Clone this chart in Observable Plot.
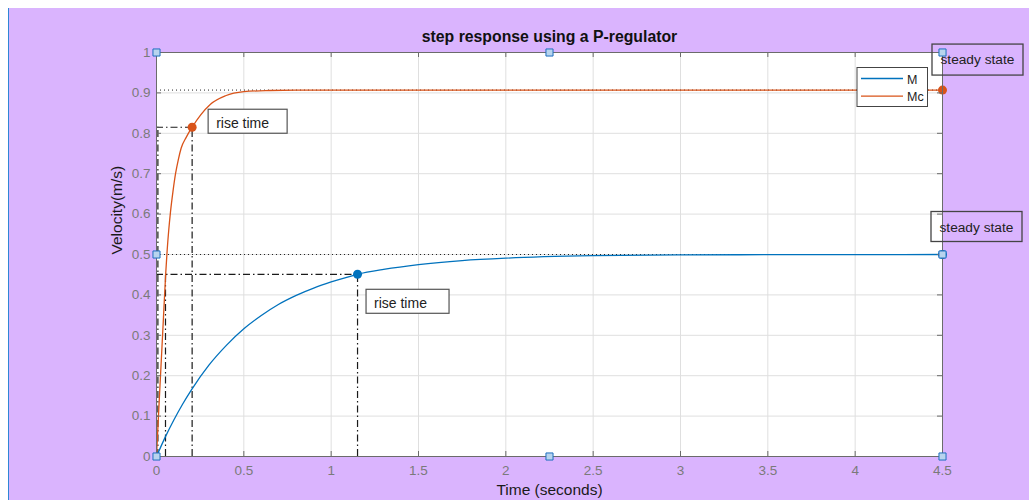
<!DOCTYPE html>
<html>
<head>
<meta charset="utf-8">
<script src="https://cdn.jsdelivr.net/npm/d3@7"></script>
<script src="https://cdn.jsdelivr.net/npm/@observablehq/plot@0.6"></script>
<style>
  html, body { margin: 0; padding: 0; background: #ffffff; }
  #fig { position: absolute; left: 8px; top: 8px; width: 1021px; height: 492px; background: #dab4fe; }
  #edge { position: absolute; left: 8px; top: 8px; width: 1px; height: 492px; background: #2f86d6; }
  #fig svg { display: block; }
</style>
</head>
<body>
<div id="fig"></div>
<div id="edge"></div>
<script>
// ---- data ----
const titleText = "step response using a P-regulator";
const xLabel = "Time (seconds)";
const yLabel = "Velocity(m/s)";
const timeTicks = [0, 0.5, 1, 1.5, 2, 2.5, 3, 3.5, 4, 4.5];
const velocityTicks = [0, 0.1, 0.2, 0.3, 0.4, 0.5, 0.6, 0.7, 0.8, 0.9, 1];
const seriesNames = ["M", "Mc"];
const seriesColors = ["#0072bd", "#d95319"];

const mTime     = [0, 0.05, 0.1, 0.15, 0.2, 0.3, 0.4, 0.5, 0.6, 0.7, 0.8, 0.9, 1.0, 1.151, 1.3, 1.5, 1.75, 2.0, 2.5, 3.0, 3.5, 4.0, 4.5];
const mVelocity = [0, 0.048, 0.091, 0.13, 0.165, 0.226, 0.275, 0.316, 0.349, 0.377, 0.399, 0.417, 0.432, 0.451, 0.463, 0.475, 0.485, 0.491, 0.497, 0.499, 0.4995, 0.4998, 0.5];

const mcTime     = [0, 0.01, 0.02, 0.03, 0.04, 0.053, 0.061, 0.07, 0.08, 0.094, 0.109, 0.125, 0.141, 0.17, 0.204, 0.252, 0.309, 0.395, 0.5, 0.65, 0.8, 1.0, 4.5];
const mcVelocity = [0, 0.09, 0.175, 0.26, 0.345, 0.455, 0.51, 0.56, 0.605, 0.655, 0.70, 0.735, 0.763, 0.790, 0.815, 0.845, 0.872, 0.893, 0.903, 0.906, 0.907, 0.907, 0.907];

const riseT10 = [0.0515, 0.008];   // 10% times (M, Mc)
const riseT90 = [1.151, 0.204];    // 90% times
const riseV90 = [0.451, 0.815];    // 90% values
const steadyV = [0.5, 0.907];      // steady-state values
const endTime = 4.5;

const handleT = [0, 2.25, 4.5, 0, 4.5, 0, 2.25, 4.5];
const handleV = [1, 1, 1, 0.5, 0.5, 0, 0, 0];

// ---- tables built from the arrays ----
const curveM = mTime.map((t, i) => ({t, v: mVelocity[i]}));
const curveMc = mcTime.map((t, i) => ({t, v: mcVelocity[i]}));
const rise = seriesNames.map((s, i) => ({s, t10: riseT10[i], t90: riseT90[i], v90: riseV90[i], color: seriesColors[i]}));
const steady = seriesNames.map((s, i) => ({s, t: endTime, v: steadyV[i], color: seriesColors[i]}));
const handles = handleT.map((t, i) => ({t, v: handleV[i]}));

// ---- layout / style ----
const W = 1021, H = 492;
const mL = 148, mR = 87, mT = 44, mB = 44;
const frameW = W - mL - mR, frameH = H - mT - mB;
const tickLen = 5;
const gridColor = "#dfdfdf";
const axisColor = "#6b6b6b";
const tickLabelColor = "#7a7a7a";
const dashDot = "7,3,1.5,3";
const guideColor = "#1a1a1a";
const font = "'Liberation Sans', Arial, Helvetica, sans-serif";
const fmt = d => `${d}`;

const plot = Plot.plot({
  width: W, height: H,
  marginLeft: mL, marginRight: mR, marginTop: mT, marginBottom: mB,
  style: {background: "transparent", fontFamily: font, overflow: "visible"},
  x: {domain: [0, endTime], axis: null},
  y: {domain: [0, 1], axis: null},
  marks: [
    Plot.frame({fill: "white", stroke: "none"}),
    Plot.gridX(timeTicks, {x: d => d, stroke: gridColor, strokeOpacity: 1}),
    Plot.gridY(velocityTicks, {y: d => d, stroke: gridColor, strokeOpacity: 1}),
    // steady state dotted lines
    Plot.ruleY(steady, {y: "v", stroke: "#222", strokeWidth: 1, strokeDasharray: "1,3"}),
    // rise time dash-dot guides
    Plot.ruleX(rise, {x: "t10", y1: 0, y2: "v90", stroke: guideColor, strokeWidth: 1.2, strokeDasharray: dashDot}),
    Plot.ruleX(rise, {x: "t90", y1: 0, y2: "v90", stroke: guideColor, strokeWidth: 1.2, strokeDasharray: dashDot}),
    Plot.ruleY(rise, {y: "v90", x1: 0, x2: "t90", stroke: guideColor, strokeWidth: 1.2, strokeDasharray: dashDot}),
    // curves
    Plot.line(curveM, {x: "t", y: "v", stroke: seriesColors[0], strokeWidth: 1.3, curve: "monotone-x"}),
    Plot.line(curveMc, {x: "t", y: "v", stroke: seriesColors[1], strokeWidth: 1.3, curve: "monotone-x"}),
    // markers
    Plot.dot(rise, {x: "t90", y: "v90", r: 4.5, fill: "color", stroke: "none"}),
    Plot.dot(steady, {x: "t", y: "v", r: 4.5, fill: "color", stroke: "none"}),
    // inward ticks
    Plot.tickX(timeTicks, {x: d => d, insetTop: frameH - tickLen, stroke: axisColor}),
    Plot.tickX(timeTicks, {x: d => d, insetBottom: frameH - tickLen, stroke: axisColor}),
    Plot.tickY(velocityTicks, {y: d => d, insetRight: frameW - tickLen, stroke: axisColor}),
    Plot.tickY(velocityTicks, {y: d => d, insetLeft: frameW - tickLen, stroke: axisColor}),
    Plot.frame({stroke: axisColor, strokeWidth: 1}),
    // tick labels
    Plot.axisX(timeTicks, {anchor: "bottom", tickSize: 0, tickPadding: 9, fontSize: 13.5, color: tickLabelColor, label: null, tickFormat: fmt}),
    Plot.axisY(velocityTicks, {anchor: "left", tickSize: 0, tickPadding: 6, fontSize: 13.5, color: tickLabelColor, label: null, tickFormat: fmt}),
    // titles
    Plot.text([titleText], {frameAnchor: "top", lineAnchor: "middle", dy: -16, fontSize: 15.8, fontWeight: "bold", fill: "#111"}),
    Plot.text([xLabel], {frameAnchor: "bottom", lineAnchor: "middle", dy: 33.5, fontSize: 15.5, fill: "#1a1a1a"}),
    Plot.text([yLabel], {frameAnchor: "left", lineAnchor: "middle", dx: -39.3, rotate: -90, fontSize: 15.5, fill: "#1a1a1a"}),
    // selection handles
    Plot.dot(handles, {x: "t", y: "v", symbol: "square", r: 4, fill: "#b8d4ee", stroke: "#1f6fbf", strokeWidth: 1, ariaLabel: "handles"})
  ]
});

document.getElementById("fig").appendChild(plot);

// ---- annotation boxes & legend, positioned through Plot's scales ----
const sx = plot.scale("x"), sy = plot.scale("y");
const svg = d3.select(plot);
const ann = svg.append("g").attr("font-family", font).attr("text-anchor", "start");

const riseBoxes = [
  {p: rise[1], dx: 16.5, dy: -17.5, w: 79, h: 24},
  {p: rise[0], dx: 9, dy: 15.5, w: 83, h: 24}
];
riseBoxes.forEach(b => {
  const x = sx.apply(b.p.t90) + b.dx, y = sy.apply(b.p.v90) + b.dy;
  ann.append("rect").attr("x", x).attr("y", y).attr("width", b.w).attr("height", b.h)
    .attr("fill", "white").attr("stroke", "#555").attr("stroke-width", 1.2);
  ann.append("text").attr("x", x + 8).attr("y", y + 19).attr("text-anchor", "start")
    .attr("font-size", 14).attr("fill", "#222").text("rise time");
});

const steadyBoxes = [
  {p: steady[1], dx: -10, dy: -45.5, w: 91, h: 31},
  {p: steady[0], dx: -11, dy: -42.5, w: 91, h: 30}
];
steadyBoxes.forEach(b => {
  const x = sx.apply(b.p.t) + b.dx, y = sy.apply(b.p.v) + b.dy;
  ann.append("rect").attr("x", x).attr("y", y).attr("width", b.w).attr("height", b.h)
    .attr("fill", "none").attr("stroke", "#444").attr("stroke-width", 1.3);
  ann.append("text").attr("x", x + 8.5).attr("y", y + 20).attr("text-anchor", "start")
    .attr("font-size", 13.7).attr("fill", "#222").text("steady state");
});

// legend
const frameRight = sx.apply(endTime), frameTop = sy.apply(1);
const lg = ann.append("g").attr("transform", `translate(${frameRight - 85},${frameTop + 15.5})`);
lg.append("rect").attr("width", 70.5).attr("height", 39).attr("fill", "white").attr("stroke", "#444").attr("stroke-width", 1);
seriesNames.forEach((s, i) => {
  const yy = 11 + i * 17.7;
  lg.append("line").attr("x1", 4).attr("x2", 46).attr("y1", yy).attr("y2", yy)
    .attr("stroke", seriesColors[i]).attr("stroke-width", 1.3);
  lg.append("text").attr("x", 50).attr("y", yy + 5).attr("text-anchor", "start")
    .attr("font-size", 12.5).attr("fill", "#222").text(s);
});

// handles on top
svg.select('[aria-label="handles"]').raise();
</script>
</body>
</html>
